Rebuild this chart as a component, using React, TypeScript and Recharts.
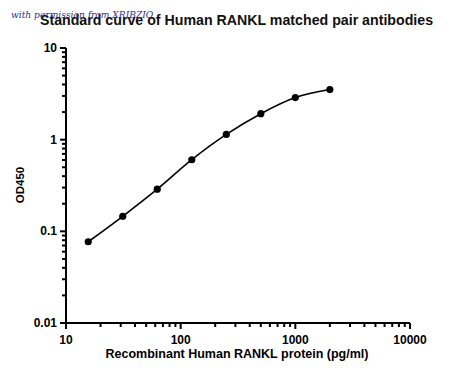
import React from "react";
import { LineChart, Line, XAxis, YAxis, Label } from "recharts";

const concentrations = [15.625, 31.25, 62.5, 125, 250, 500, 1000, 2000];
const od450 = [0.077, 0.146, 0.288, 0.604, 1.14, 1.92, 2.88, 3.52];

const xMajor = [10, 100, 1000, 10000];
const yMajor = [0.01, 0.1, 1, 10];
const minorMult = [2, 3, 4, 5, 6, 7, 8, 9];

const xTicks = [
  ...xMajor,
  ...xMajor.slice(0, 3).flatMap((d) => minorMult.map((m) => d * m)),
].sort((a, b) => a - b);
const yTicks = [
  ...yMajor,
  ...yMajor.slice(0, 3).flatMap((d) => minorMult.map((m) => +(d * m).toPrecision(3))),
].sort((a, b) => a - b);

const data = concentrations.map((c, i) => ({ x: c, y: od450[i] }));

const FONT = "'Liberation Sans', Arial, sans-serif";

const isMajor = (list: number[], v: number) => list.some((m) => Math.abs(m - v) < 1e-9);

const XTick = (props: any) => {
  const { x, y, payload } = props;
  const v = payload.value;
  const major = isMajor(xMajor, v);
  return (
    <g>
      <line x1={x} x2={x} y1={y} y2={y + (major ? 6 : 4)} stroke="#000" strokeWidth={2} />
      {major && (
        <text x={x} y={y + 21} textAnchor="middle" fontFamily={FONT} fontWeight="bold" fontSize={12} fill="#000">
          {v}
        </text>
      )}
    </g>
  );
};

const YTick = (props: any) => {
  const { x, y, payload } = props;
  const v = payload.value;
  const major = isMajor(yMajor, v);
  return (
    <g>
      <line x1={x} x2={x - (major ? 6 : 4)} y1={y} y2={y} stroke="#000" strokeWidth={2} />
      {major && (
        <text x={x - 9} y={y + 4} textAnchor="end" fontFamily={FONT} fontWeight="bold" fontSize={12} fill="#000">
          {v}
        </text>
      )}
    </g>
  );
};

export default function App() {
  return (
    <div style={{ position: "relative", width: 450, height: 381, background: "#fff" }}>
      <style>{"body{margin:0;background:#fff}"}</style>
      <div
        style={{
          position: "absolute",
          left: 0,
          width: 473,
          top: 12,
          textAlign: "center",
          fontFamily: FONT,
          fontWeight: "bold",
          fontSize: 14.2,
          color: "#111",
          whiteSpace: "nowrap",
        }}
      >
        Standard curve of Human RANKL matched pair antibodies
      </div>
      <div
        style={{
          position: "absolute",
          left: 11,
          top: 10,
          fontFamily: "'DejaVu Serif', 'Liberation Serif', serif",
          fontStyle: "italic",
          fontSize: 9.1,
          color: "#1f2f9a",
          whiteSpace: "nowrap",
        }}
      >
        with permission from XRIBZIO
      </div>
      <LineChart
        width={450}
        height={381}
        data={data}
        margin={{ top: 48, right: 40, bottom: 0, left: 0 }}
      >
        <XAxis
          dataKey="x"
          type="number"
          scale="log"
          domain={[10, 10000]}
          ticks={xTicks}
          interval={0}
          allowDataOverflow
          height={58}
          tickSize={0}
          tickMargin={0}
          tickLine={false}
          tick={<XTick />}
          axisLine={{ stroke: "#000", strokeWidth: 2 }}
        >
          <Label
            content={() => (
              <text x={237} y={358} textAnchor="middle" fontFamily={FONT} fontWeight="bold" fontSize={12.5} fill="#000">
                Recombinant Human RANKL protein (pg/ml)
              </text>
            )}
          />
        </XAxis>
        <YAxis
          dataKey="y"
          type="number"
          scale="log"
          domain={[0.01, 10]}
          ticks={yTicks}
          interval={0}
          allowDataOverflow
          width={66}
          tickSize={0}
          tickMargin={0}
          tickLine={false}
          tick={<YTick />}
          axisLine={{ stroke: "#000", strokeWidth: 2 }}
        >
          <Label
            content={() => (
              <text
                x={24}
                y={185}
                transform="rotate(-90 24 185)"
                textAnchor="middle"
                fontFamily={FONT}
                fontWeight="bold"
                fontSize={11.5}
                fill="#000"
              >
                OD450
              </text>
            )}
          />
        </YAxis>
        <Line
          type="monotone"
          dataKey="y"
          stroke="#000"
          strokeWidth={1.6}
          dot={{ r: 3.6, fill: "#000", stroke: "#000", strokeWidth: 0 }}
          isAnimationActive={false}
        />
      </LineChart>
    </div>
  );
}
